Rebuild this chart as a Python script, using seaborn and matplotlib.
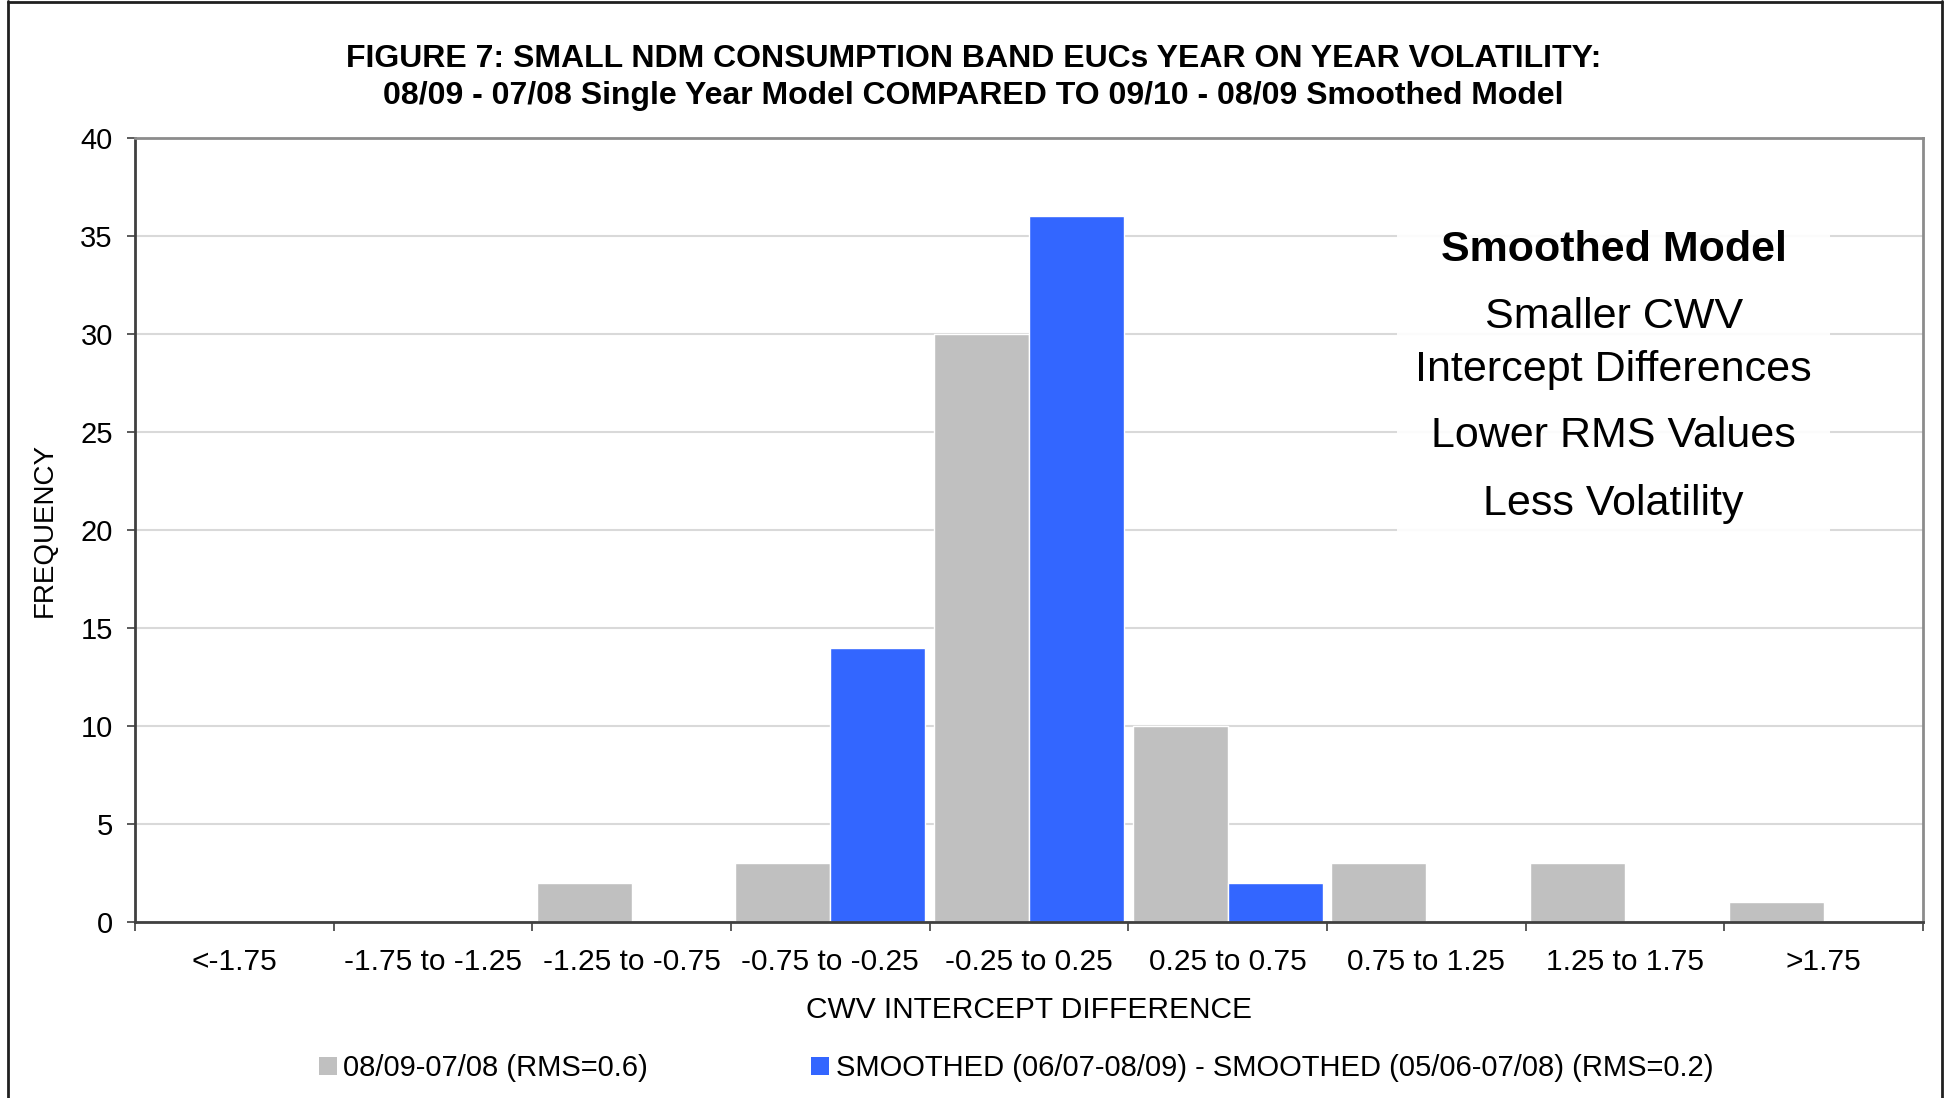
import matplotlib
matplotlib.use("Agg")
import matplotlib.pyplot as plt
from matplotlib.patches import Patch, Rectangle
from matplotlib.lines import Line2D
from matplotlib.ticker import FixedLocator
import seaborn as sns
import pandas as pd

# Frequency of CWV intercept differences per band
bands = ["<-1.75", "-1.75 to -1.25", "-1.25 to -0.75", "-0.75 to -0.25",
         "-0.25 to 0.25", "0.25 to 0.75", "0.75 to 1.25", "1.25 to 1.75", ">1.75"]
single_year = [0, 0, 2, 3, 30, 10, 3, 3, 1]
smoothed = [0, 0, 0, 14, 36, 2, 0, 0, 0]
series_names = ["08/09-07/08 (RMS=0.6)",
                "SMOOTHED (06/07-08/09) - SMOOTHED (05/06-07/08) (RMS=0.2)"]
series_colors = ["#C0C0C0", "#3366FF"]
y_ticks = [0, 5, 10, 15, 20, 25, 30, 35, 40]

df = pd.DataFrame({
    "band": bands * 2,
    "freq": single_year + smoothed,
    "series": [series_names[0]] * len(bands) + [series_names[1]] * len(bands),
})

sns.set_style("white")
plt.rcParams["font.family"] = ["Liberation Sans", "DejaVu Sans"]
plt.rcParams["text.color"] = "black"
plt.rcParams["axes.labelcolor"] = "black"
plt.rcParams["xtick.color"] = "black"
plt.rcParams["ytick.color"] = "black"

W, H = 1947, 1098
fig = plt.figure(figsize=(W / 100, H / 100), dpi=100)
ax = fig.add_axes([135 / W, 1 - 922 / H, (1923 - 135) / W, (922 - 138) / H])

sns.barplot(data=df, x="band", y="freq", hue="series", order=bands,
            hue_order=series_names, palette=series_colors, saturation=1,
            width=0.955, dodge=True, legend=False, ax=ax, zorder=2)

ax.set_xlim(-0.5, len(bands) - 0.5)
ax.set_ylim(0, 40)
ax.set_yticks(y_ticks)
ax.yaxis.grid(True, color="#D9D9D9", linewidth=1.5, zorder=0)
ax.xaxis.grid(False)
ax.set_axisbelow(True)

# spines: dark left/bottom, grey frame on top/right
for side in ["left", "bottom"]:
    ax.spines[side].set_color("#404040")
    ax.spines[side].set_linewidth(2)
for side in ["top", "right"]:
    ax.spines[side].set_color("#8C8C8C")
    ax.spines[side].set_linewidth(2)
    ax.spines[side].set_visible(True)

# category labels centred, tick marks on the category boundaries
ax.tick_params(axis="x", which="major", length=0, pad=19, labelsize=21.5)
ax.xaxis.set_minor_locator(FixedLocator([i - 0.5 for i in range(len(bands) + 1)]))
ax.tick_params(axis="x", which="minor", direction="out", length=6.5,
               width=1.2, color="#404040", bottom=True)
ax.tick_params(axis="y", which="major", direction="out", length=6,
               width=1.2, color="#404040", pad=10, labelsize=21, left=True)

ax.set_xlabel("CWV INTERCEPT DIFFERENCE", fontsize=21.5, labelpad=14)
ax.set_ylabel("FREQUENCY", fontsize=20, labelpad=16)

fig.text(0.5, 1 - 59 / H,
         "FIGURE 7: SMALL NDM CONSUMPTION BAND EUCs YEAR ON YEAR VOLATILITY:",
         ha="center", va="center", fontsize=23, fontweight="bold")
fig.text(0.5, 1 - 96 / H,
         "08/09 - 07/08 Single Year Model COMPARED TO 09/10 - 08/09 Smoothed Model",
         ha="center", va="center", fontsize=23, fontweight="bold")

# note box inside the plot area
ax.add_patch(Rectangle((0.706, 0.494), 0.242, 0.405, transform=ax.transAxes,
                       facecolor="white", edgecolor="none", alpha=0.92, zorder=3))
ax.text(0.827, 0.857, "Smoothed Model", transform=ax.transAxes, ha="center",
        va="center", fontsize=31, fontweight="bold", zorder=4)
for yy, line in [(0.772, "Smaller CWV"), (0.704, "Intercept Differences"),
                 (0.620, "Lower RMS Values"), (0.533, "Less Volatility")]:
    ax.text(0.827, yy, line, transform=ax.transAxes, ha="center",
            va="center", fontsize=31, zorder=4)

handles = [Patch(facecolor=c, edgecolor="none") for c in series_colors]
fig.legend(handles, series_names, loc="center", ncol=2,
           bbox_to_anchor=(1016 / W, 1 - 1068 / H), frameon=False,
           fontsize=21, handlelength=0.62, handleheight=0.58,
           handletextpad=0.22, columnspacing=5.6)

# outer chart border
for xs, ys in [([8, 8], [0, H - 1]), ([8, 1942], [H - 1.5, H - 1.5]),
               ([1942, 1942], [0, H - 1])]:
    fig.add_artist(Line2D([x / W for x in xs], [y / H for y in ys],
                          transform=fig.transFigure, color="#202020", linewidth=2))

fig.savefig("out.png", dpi=100, facecolor="white")
